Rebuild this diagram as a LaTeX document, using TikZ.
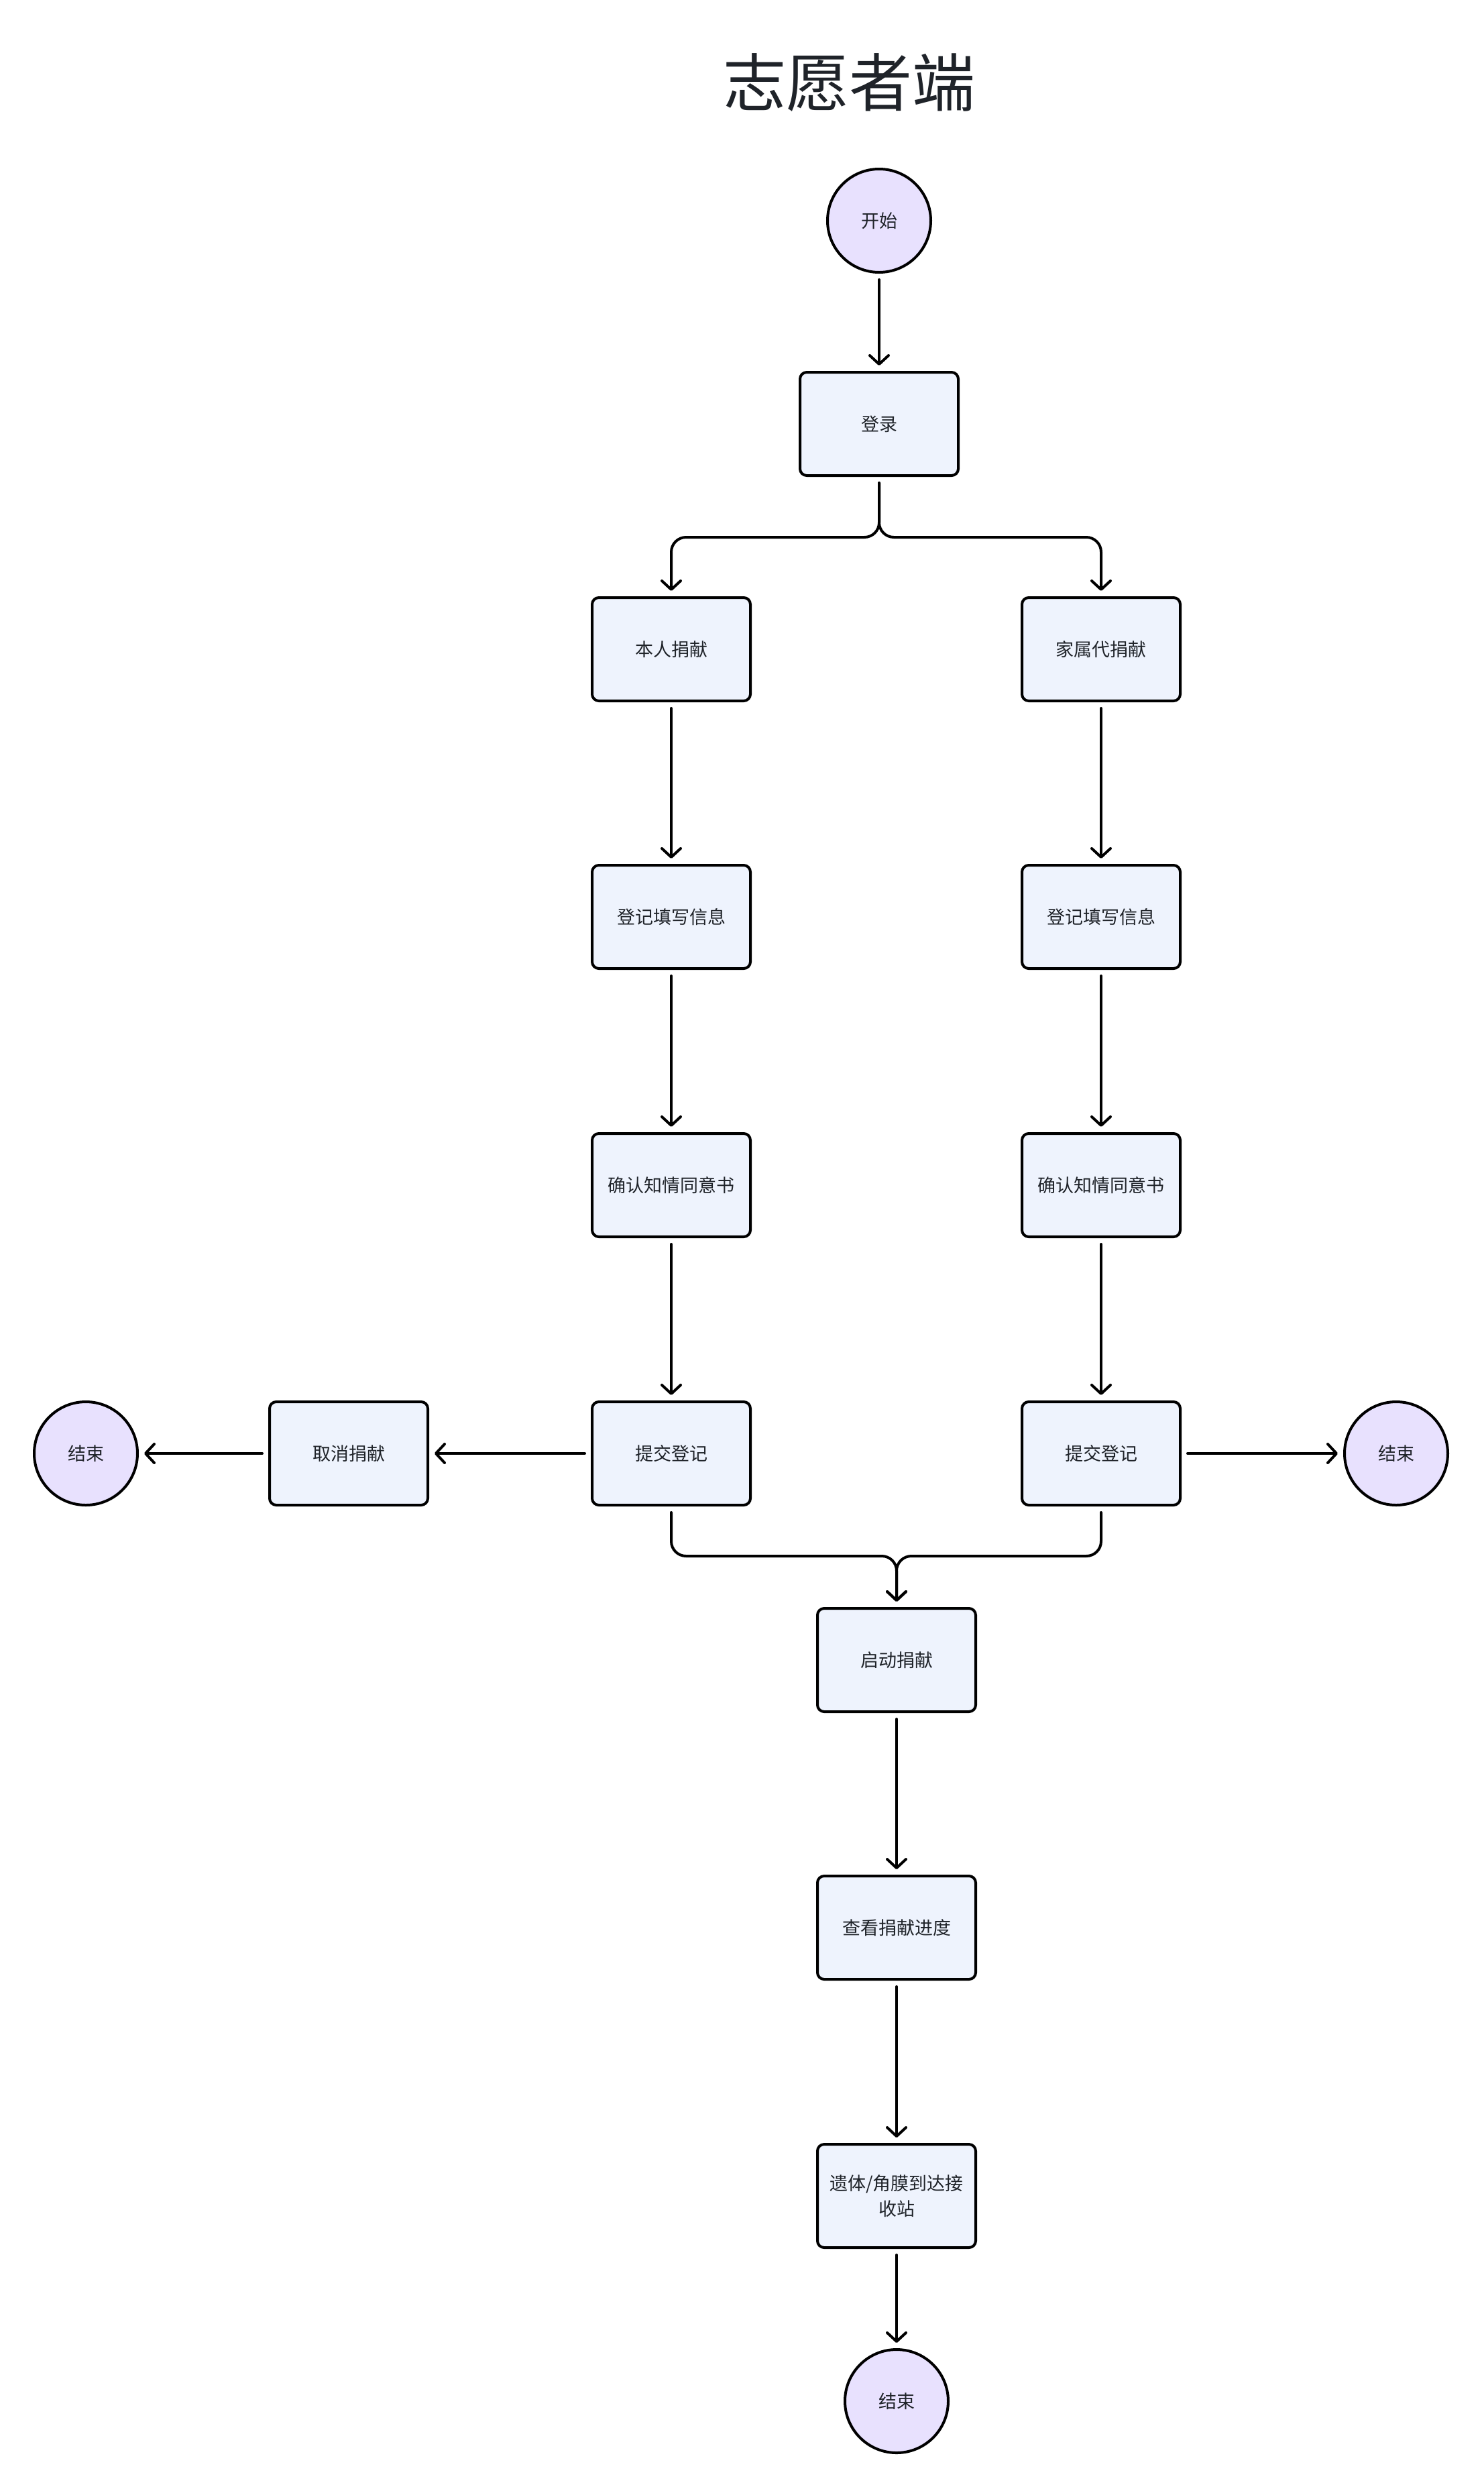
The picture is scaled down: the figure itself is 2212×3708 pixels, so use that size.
\documentclass[tikz,border=0pt]{standalone}
\usepackage{fontspec}
\setmainfont{Noto Sans CJK SC}
\usetikzlibrary{arrows.meta}
\definecolor{boxfill}{HTML}{EEF3FD}
\definecolor{circfill}{HTML}{E8E1FE}
\definecolor{txt}{HTML}{1F2329}
\begin{document}
\begin{tikzpicture}[x=1pt,y=-1pt,
  box/.style={draw=black, line width=4pt, fill=boxfill, rounded corners=10pt,
    minimum width=236pt, minimum height=154pt, inner sep=0pt, text=txt,
    font=\fontsize{27}{38}\selectfont, align=center},
  term/.style={circle, draw=black, line width=4pt, fill=circfill,
    minimum size=154pt, inner sep=0pt, text=txt,
    font=\fontsize{27}{38}\selectfont},
  conn/.style={line width=4pt, line cap=round, line join=round,
    -{Straight Barb[length=13pt,width=28pt,round]},
    shorten <=9pt, shorten >=8pt}]
\fill[white] (0,0) rectangle (2212,3708);
\useasboundingbox (0,0) rectangle (2212,3708);

\node[text=txt, font=\fontsize{94}{110}\selectfont] (title) at (1266,123) {志愿者端};

\node[term] (start) at (1311,329) {开始};
\node[box] (login) at (1311,632) {登录};
\node[box] (brjx) at (1001,968) {本人捐献};
\node[box] (jsjx) at (1642,968) {家属代捐献};
\node[box] (djL) at (1001,1367) {登记填写信息};
\node[box] (djR) at (1642,1367) {登记填写信息};
\node[box] (qrL) at (1001,1767) {确认知情同意书};
\node[box] (qrR) at (1642,1767) {确认知情同意书};
\node[box] (tjL) at (1001,2167) {提交登记};
\node[box] (tjR) at (1642,2167) {提交登记};
\node[box] (qx) at (520,2167) {取消捐献};
\node[term] (endL) at (128,2167) {结束};
\node[term] (endR) at (2082,2167) {结束};
\node[box] (qd) at (1337,2475) {启动捐献};
\node[box] (ck) at (1337,2874) {查看捐献进度};
\node[box] (yt) at (1337,3274) {遗体/角膜到达接\\收站};
\node[term] (endB) at (1337,3580) {结束};

\coordinate (split) at ([yshift=-90pt]login.south);
\coordinate (merge) at ([yshift=76pt]qd.north);

\draw[conn] (start) -- (login);
\draw[conn, rounded corners=22pt] (login.south) -- (split) -| (brjx.north);
\draw[conn, rounded corners=22pt] (login.south) -- (split) -| (jsjx.north);
\draw[conn] (brjx) -- (djL);
\draw[conn] (djL) -- (qrL);
\draw[conn] (qrL) -- (tjL);
\draw[conn] (jsjx) -- (djR);
\draw[conn] (djR) -- (qrR);
\draw[conn] (qrR) -- (tjR);
\draw[conn] (tjL) -- (qx);
\draw[conn] (qx) -- (endL);
\draw[conn] (tjR) -- (endR);
\draw[conn, rounded corners=22pt] (tjL.south) |- (merge) -- (qd.north);
\draw[conn, rounded corners=22pt] (tjR.south) |- (merge) -- (qd.north);
\draw[conn] (qd) -- (ck);
\draw[conn] (ck) -- (yt);
\draw[conn] (yt) -- (endB);
\end{tikzpicture}
\end{document}
